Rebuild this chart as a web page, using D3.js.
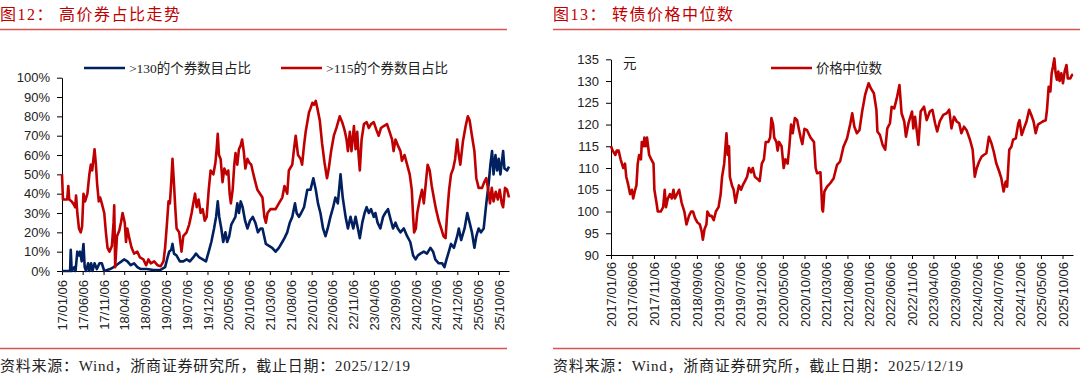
<!DOCTYPE html>
<html lang="zh-CN">
<head>
<meta charset="UTF-8">
<title>高价券占比走势 / 转债价格中位数</title>
<style>
    body { margin: 0; background: #fff; }
    svg { display: block; font-family: "Liberation Serif", "Times New Roman", "Noto Sans CJK SC", serif; }
    .title { font-size: 16px; fill: #c00000; letter-spacing: 1.5px; }
    .note { font-size: 15px; fill: #222; }
    .legend { font-size: 13.5px; fill: #222; }
    .axis text { font-size: 13px; fill: #222; }
    .axis path, .axis line { stroke: #000; }
</style>
</head>
<body>
<script src="https://d3js.org/d3.v7.min.js"></script>
<script>
// x轴刻度（每5个月）
const tickDates = ["2017-01-06", "2017-06-06", "2017-11-06", "2018-04-06", "2018-09-06", "2019-02-06",
    "2019-07-06", "2019-12-06", "2020-05-06", "2020-10-06", "2021-03-06", "2021-08-06", "2022-01-06",
    "2022-06-06", "2022-11-06", "2023-04-06", "2023-09-06", "2024-02-06", "2024-07-06", "2024-12-06",
    "2025-05-06", "2025-10-06"];
const dateRange = ["2017-01-06", "2025-12-19"];

// 图12: >130 的个券数目占比 (%)
const ratio130 = [
    ["2017-01-06", 0], ["2017-03-06", 0], ["2017-03-11", 11], ["2017-03-18", 0], ["2017-04-06", 2], ["2017-04-15", 0],
    ["2017-04-28", 10], ["2017-05-08", 8], ["2017-05-18", 10], ["2017-05-30", 5], ["2017-06-12", 14], ["2017-06-21", 2],
    ["2017-07-01", 0], ["2017-07-16", 4], ["2017-07-25", 0], ["2017-08-07", 4], ["2017-08-17", 0], ["2017-09-01", 4],
    ["2017-09-18", 1], ["2017-10-07", 4], ["2017-10-24", 4], ["2017-11-11", 0], ["2017-12-24", 1], ["2018-01-18", 2],
    ["2018-02-07", 3], ["2018-02-26", 4], ["2018-03-18", 5], ["2018-04-05", 6], ["2018-04-29", 5], ["2018-05-23", 3],
    ["2018-06-17", 4], ["2018-07-11", 2], ["2018-08-05", 1], ["2018-09-18", 1], ["2018-11-06", 0.5], ["2018-12-24", 0.5],
    ["2019-01-30", 2], ["2019-02-17", 7], ["2019-03-01", 10], ["2019-03-16", 11], ["2019-03-25", 14], ["2019-04-05", 9],
    ["2019-04-24", 8], ["2019-05-18", 5], ["2019-06-12", 5], ["2019-07-06", 6], ["2019-07-30", 5], ["2019-08-24", 7],
    ["2019-09-13", 9], ["2019-10-07", 7], ["2019-11-01", 6], ["2019-11-25", 5], ["2019-12-15", 10], ["2020-01-03", 15],
    ["2020-01-23", 22], ["2020-02-07", 28], ["2020-02-19", 36], ["2020-03-01", 28], ["2020-03-16", 22], ["2020-03-30", 15],
    ["2020-04-15", 20], ["2020-04-28", 15], ["2020-05-13", 18], ["2020-05-28", 24], ["2020-06-12", 26], ["2020-06-27", 28],
    ["2020-07-11", 35], ["2020-07-23", 30], ["2020-08-05", 36], ["2020-08-19", 33], ["2020-09-06", 26], ["2020-09-23", 22],
    ["2020-10-12", 26], ["2020-11-01", 28], ["2020-11-20", 25], ["2020-12-09", 20], ["2020-12-28", 22], ["2021-01-11", 22],
    ["2021-02-05", 14], ["2021-02-28", 13], ["2021-03-23", 12], ["2021-04-17", 10], ["2021-05-11", 12], ["2021-06-05", 15],
    ["2021-06-21", 17], ["2021-07-11", 20], ["2021-07-30", 25], ["2021-08-17", 28], ["2021-09-06", 35], ["2021-09-18", 30],
    ["2021-10-05", 28], ["2021-10-21", 30], ["2021-11-11", 33], ["2021-12-05", 42], ["2021-12-28", 42], ["2022-01-18", 48],
    ["2022-02-05", 42], ["2022-02-21", 35], ["2022-03-11", 30], ["2022-03-30", 22], ["2022-04-17", 18], ["2022-05-03", 22],
    ["2022-05-23", 28], ["2022-06-12", 33], ["2022-06-28", 38], ["2022-07-16", 35], ["2022-08-05", 50], ["2022-08-21", 38],
    ["2022-09-11", 28], ["2022-09-28", 22], ["2022-10-17", 28], ["2022-11-06", 22], ["2022-11-23", 28], ["2022-12-10", 22],
    ["2022-12-24", 17], ["2023-01-11", 25], ["2023-01-28", 30], ["2023-02-12", 33], ["2023-02-28", 30], ["2023-03-16", 32],
    ["2023-04-05", 28], ["2023-04-17", 30], ["2023-05-03", 25], ["2023-05-23", 22], ["2023-06-12", 28], ["2023-06-28", 30],
    ["2023-07-18", 32], ["2023-08-05", 27], ["2023-08-24", 22], ["2023-09-11", 25], ["2023-09-28", 22], ["2023-10-17", 20],
    ["2023-11-11", 22], ["2023-12-05", 18], ["2023-12-28", 15], ["2024-01-18", 8], ["2024-02-05", 6], ["2024-02-21", 8],
    ["2024-03-11", 9], ["2024-04-05", 10], ["2024-04-28", 9], ["2024-05-23", 12], ["2024-06-12", 10], ["2024-06-28", 6],
    ["2024-07-23", 4], ["2024-08-17", 4], ["2024-09-03", 2], ["2024-09-18", 6], ["2024-10-05", 10], ["2024-10-21", 14],
    ["2024-11-11", 12], ["2024-12-05", 18], ["2024-12-17", 22], ["2025-01-03", 16], ["2025-01-28", 22], ["2025-02-17", 30],
    ["2025-03-06", 25], ["2025-03-23", 20], ["2025-04-10", 12], ["2025-04-24", 18], ["2025-05-11", 22], ["2025-05-28", 20],
    ["2025-06-17", 22], ["2025-07-06", 35], ["2025-07-23", 45], ["2025-08-05", 55], ["2025-08-17", 62], ["2025-08-28", 50],
    ["2025-09-11", 60], ["2025-09-23", 52], ["2025-10-05", 58], ["2025-10-17", 50], ["2025-11-06", 62], ["2025-11-16", 53],
    ["2025-12-05", 52], ["2025-12-19", 54]
];

// 图12: >115 的个券数目占比 (%)
const ratio115 = [
    ["2017-01-06", 50], ["2017-01-13", 37], ["2017-02-13", 37], ["2017-02-21", 44], ["2017-02-28", 37], ["2017-03-18", 36],
    ["2017-04-06", 34], ["2017-04-12", 33], ["2017-04-19", 39], ["2017-04-28", 30], ["2017-05-10", 22], ["2017-05-23", 20],
    ["2017-06-02", 23], ["2017-06-12", 40], ["2017-06-24", 36], ["2017-07-11", 40], ["2017-07-25", 50], ["2017-08-05", 55],
    ["2017-08-15", 52], ["2017-08-24", 58], ["2017-09-01", 63], ["2017-09-11", 55], ["2017-09-20", 45], ["2017-10-02", 36],
    ["2017-10-12", 38], ["2017-10-24", 35], ["2017-11-11", 30], ["2017-11-23", 20], ["2017-12-05", 12], ["2017-12-19", 10],
    ["2018-01-06", 13], ["2018-01-18", 25], ["2018-01-23", 34], ["2018-01-30", 2], ["2018-02-12", 18], ["2018-03-01", 21],
    ["2018-03-13", 25], ["2018-03-25", 30], ["2018-04-10", 25], ["2018-04-19", 15], ["2018-04-29", 22], ["2018-05-13", 17],
    ["2018-05-30", 12], ["2018-06-17", 9], ["2018-07-11", 10], ["2018-07-30", 7], ["2018-08-24", 6], ["2018-09-13", 3],
    ["2018-09-30", 6], ["2018-10-17", 4], ["2018-11-11", 5], ["2018-12-05", 3], ["2018-12-29", 2.5], ["2019-01-18", 5],
    ["2019-01-30", 12], ["2019-02-12", 24], ["2019-02-24", 36], ["2019-03-06", 35], ["2019-03-16", 46], ["2019-03-25", 58],
    ["2019-04-05", 45], ["2019-04-15", 32], ["2019-04-24", 22], ["2019-05-13", 20], ["2019-05-30", 10], ["2019-06-12", 18],
    ["2019-07-06", 20], ["2019-07-25", 24], ["2019-08-12", 30], ["2019-08-24", 35], ["2019-09-06", 40], ["2019-09-18", 33],
    ["2019-10-02", 37], ["2019-10-17", 30], ["2019-11-01", 32], ["2019-11-16", 26], ["2019-11-30", 28], ["2019-12-15", 42],
    ["2019-12-29", 52], ["2020-01-18", 50], ["2020-02-02", 56], ["2020-02-12", 64], ["2020-02-19", 71], ["2020-02-28", 60],
    ["2020-03-11", 58], ["2020-03-25", 46], ["2020-04-07", 53], ["2020-04-24", 50], ["2020-05-06", 52], ["2020-05-16", 40],
    ["2020-05-25", 35], ["2020-06-07", 42], ["2020-06-19", 55], ["2020-06-28", 61], ["2020-07-11", 55], ["2020-07-23", 63],
    ["2020-08-05", 65], ["2020-08-15", 68], ["2020-08-27", 62], ["2020-09-08", 53], ["2020-09-23", 58], ["2020-10-07", 56],
    ["2020-10-21", 55], ["2020-11-06", 50], ["2020-11-20", 46], ["2020-12-05", 42], ["2020-12-24", 40], ["2021-01-11", 38],
    ["2021-01-25", 28], ["2021-02-05", 25], ["2021-02-17", 30], ["2021-03-11", 32], ["2021-04-17", 32], ["2021-05-11", 35],
    ["2021-06-05", 38], ["2021-06-21", 44], ["2021-07-11", 40], ["2021-07-23", 52], ["2021-08-17", 55], ["2021-08-28", 62],
    ["2021-09-11", 70], ["2021-09-28", 60], ["2021-10-17", 58], ["2021-10-28", 55], ["2021-11-11", 65], ["2021-11-23", 72],
    ["2021-12-05", 77], ["2021-12-17", 82], ["2021-12-28", 84], ["2022-01-11", 87], ["2022-01-23", 86], ["2022-02-05", 88],
    ["2022-02-17", 84], ["2022-03-06", 78], ["2022-03-23", 66], ["2022-04-10", 56], ["2022-04-28", 48], ["2022-05-11", 53],
    ["2022-05-28", 62], ["2022-06-17", 70], ["2022-07-06", 74], ["2022-07-30", 80], ["2022-08-17", 77], ["2022-09-03", 73],
    ["2022-09-18", 68], ["2022-09-28", 62], ["2022-10-12", 72], ["2022-10-24", 62], ["2022-11-11", 75], ["2022-11-23", 63],
    ["2022-12-05", 72], ["2022-12-15", 60], ["2022-12-24", 52], ["2023-01-06", 68], ["2023-01-23", 76], ["2023-02-12", 77],
    ["2023-02-28", 74], ["2023-03-16", 76], ["2023-04-05", 77], ["2023-04-24", 73], ["2023-05-11", 70], ["2023-05-28", 74],
    ["2023-06-17", 75], ["2023-07-11", 76], ["2023-07-30", 72], ["2023-08-17", 68], ["2023-08-28", 62], ["2023-09-11", 68],
    ["2023-09-28", 65], ["2023-10-17", 62], ["2023-10-28", 57], ["2023-11-16", 60], ["2023-12-05", 55], ["2023-12-24", 50],
    ["2024-01-08", 42], ["2024-01-18", 28], ["2024-01-25", 20], ["2024-02-07", 22], ["2024-02-17", 30], ["2024-03-06", 37],
    ["2024-03-23", 42], ["2024-04-05", 35], ["2024-04-19", 45], ["2024-05-03", 55], ["2024-05-18", 52], ["2024-06-02", 44],
    ["2024-06-17", 38], ["2024-07-03", 32], ["2024-07-23", 26], ["2024-08-10", 22], ["2024-08-27", 18], ["2024-09-11", 17],
    ["2024-09-23", 30], ["2024-10-07", 42], ["2024-10-21", 50], ["2024-11-06", 53], ["2024-11-20", 58], ["2024-12-05", 68],
    ["2024-12-17", 60], ["2024-12-28", 55], ["2025-01-16", 67], ["2025-02-05", 75], ["2025-02-21", 80], ["2025-03-06", 78],
    ["2025-03-23", 70], ["2025-04-10", 62], ["2025-04-24", 48], ["2025-05-11", 43], ["2025-06-05", 43], ["2025-06-21", 46],
    ["2025-07-06", 48], ["2025-07-20", 42], ["2025-08-02", 35], ["2025-08-15", 43], ["2025-08-28", 36], ["2025-09-13", 41],
    ["2025-09-28", 37], ["2025-10-12", 42], ["2025-10-27", 35], ["2025-11-06", 33], ["2025-11-20", 43], ["2025-12-05", 42],
    ["2025-12-19", 38]
];

// 图13: 转债价格中位数 (元)
const medianPrice = [
    ["2017-01-06", 115], ["2017-01-18", 114], ["2017-02-06", 113], ["2017-02-15", 114], ["2017-03-01", 114], ["2017-03-15", 112],
    ["2017-04-03", 110], ["2017-04-15", 111], ["2017-04-24", 108], ["2017-05-09", 106], ["2017-05-21", 104], ["2017-06-03", 105],
    ["2017-06-12", 103], ["2017-06-26", 105], ["2017-07-05", 106], ["2017-07-14", 111], ["2017-07-24", 113], ["2017-08-06", 112],
    ["2017-08-12", 116], ["2017-08-24", 115], ["2017-08-30", 117], ["2017-09-09", 115], ["2017-09-18", 117], ["2017-10-03", 113],
    ["2017-10-18", 112], ["2017-11-03", 111], ["2017-11-09", 105], ["2017-11-24", 102], ["2017-12-03", 100], ["2017-12-24", 100],
    ["2018-01-10", 101], ["2018-01-21", 105], ["2018-01-30", 101], ["2018-02-12", 103], ["2018-02-27", 104], ["2018-03-12", 103],
    ["2018-03-24", 105], ["2018-04-03", 103], ["2018-04-18", 104], ["2018-05-03", 105], ["2018-05-21", 102], ["2018-06-09", 100],
    ["2018-06-24", 97], ["2018-07-12", 99], ["2018-07-27", 100], ["2018-08-09", 100], ["2018-08-24", 98.5], ["2018-09-09", 97.5],
    ["2018-09-27", 97], ["2018-10-09", 95.5], ["2018-10-18", 93.5], ["2018-10-30", 96], ["2018-11-12", 97], ["2018-11-19", 100],
    ["2018-12-06", 99], ["2018-12-19", 99], ["2019-01-03", 98], ["2019-01-18", 100], ["2019-02-06", 101], ["2019-02-21", 104],
    ["2019-03-03", 108], ["2019-03-18", 111], ["2019-03-27", 115], ["2019-04-03", 118], ["2019-04-12", 113], ["2019-04-21", 115],
    ["2019-04-27", 108], ["2019-05-12", 106], ["2019-05-24", 105], ["2019-06-06", 102], ["2019-06-18", 104], ["2019-06-30", 106],
    ["2019-07-15", 105], ["2019-07-27", 106], ["2019-08-12", 107], ["2019-08-27", 108], ["2019-09-09", 110], ["2019-09-24", 109],
    ["2019-10-06", 110], ["2019-10-21", 108], ["2019-11-09", 107.5], ["2019-11-24", 107], ["2019-12-09", 111], ["2019-12-24", 112],
    ["2020-01-06", 116], ["2020-01-24", 116], ["2020-02-06", 117], ["2020-02-15", 121.5], ["2020-02-27", 120], ["2020-03-06", 117],
    ["2020-03-21", 116], ["2020-03-30", 114], ["2020-04-09", 116], ["2020-04-27", 115], ["2020-05-12", 110], ["2020-05-24", 112],
    ["2020-06-09", 111], ["2020-06-21", 115], ["2020-07-03", 120], ["2020-07-15", 118], ["2020-07-30", 121.5], ["2020-08-15", 121],
    ["2020-08-27", 119], ["2020-09-09", 117], ["2020-09-21", 115.5], ["2020-10-06", 119], ["2020-10-24", 118.7], ["2020-11-18", 117],
    ["2020-12-12", 116], ["2020-12-24", 110], ["2021-01-03", 108.8], ["2021-01-27", 109], ["2021-02-09", 100.4], ["2021-02-14", 100],
    ["2021-02-24", 104.6], ["2021-03-15", 105.7], ["2021-04-06", 106.5], ["2021-04-30", 107.6], ["2021-05-24", 110.7], ["2021-06-15", 111.5],
    ["2021-07-09", 114.9], ["2021-08-03", 116.8], ["2021-08-27", 120.3], ["2021-09-09", 122.6], ["2021-09-24", 119.5], ["2021-10-12", 118],
    ["2021-10-30", 118.7], ["2021-11-18", 123], ["2021-12-09", 126.8], ["2022-01-03", 129.5], ["2022-01-19", 128.3], ["2022-02-09", 127.2],
    ["2022-02-27", 123.4], ["2022-03-06", 118.4], ["2022-03-24", 117.6], ["2022-04-12", 115.3], ["2022-04-30", 114.2], ["2022-05-15", 119.1],
    ["2022-06-03", 120.3], ["2022-06-15", 124.1], ["2022-07-03", 123.7], ["2022-07-21", 126], ["2022-08-09", 129.1], ["2022-08-24", 122.6],
    ["2022-09-12", 120.7], ["2022-09-24", 117.2], ["2022-10-12", 120.3], ["2022-11-06", 123], ["2022-11-15", 119.1], ["2022-11-27", 121.8],
    ["2022-12-09", 118.7], ["2022-12-21", 115.3], ["2023-01-06", 123], ["2023-01-30", 124.1], ["2023-02-18", 121], ["2023-03-12", 123],
    ["2023-03-30", 123.4], ["2023-04-18", 120.3], ["2023-05-03", 118.4], ["2023-05-21", 120.7], ["2023-06-15", 122.2], ["2023-07-09", 122.6],
    ["2023-07-27", 123.4], ["2023-08-12", 119.1], ["2023-08-30", 121.8], ["2023-09-18", 120.7], ["2023-10-06", 120.3], ["2023-10-21", 118],
    ["2023-11-09", 119.5], ["2023-11-27", 118.7], ["2023-12-21", 116.5], ["2024-01-09", 114.2], ["2024-01-24", 108], ["2024-02-06", 109.9],
    ["2024-02-24", 111.5], ["2024-03-12", 112.6], ["2024-03-27", 113], ["2024-04-15", 113.4], ["2024-05-03", 117.2], ["2024-05-21", 115.7],
    ["2024-06-06", 113.8], ["2024-06-24", 111.1], ["2024-07-15", 109.2], ["2024-07-30", 107.6], ["2024-08-15", 104.6], ["2024-08-30", 106.9],
    ["2024-09-09", 105.7], ["2024-09-24", 114.2], ["2024-10-09", 114.9], ["2024-10-21", 116.5], ["2024-11-09", 116.8], ["2024-11-27", 120.3],
    ["2024-12-06", 121], ["2024-12-21", 117.6], ["2025-01-06", 119.1], ["2025-01-24", 120.7], ["2025-02-12", 123.4], ["2025-02-27", 122.2],
    ["2025-03-15", 120.7], ["2025-03-30", 118], ["2025-04-15", 120], ["2025-04-30", 120.3], ["2025-05-18", 120.7], ["2025-06-09", 121],
    ["2025-06-18", 123.4], ["2025-06-30", 128.7], ["2025-07-12", 127.6], ["2025-07-21", 131.8], ["2025-07-30", 133.3], ["2025-08-09", 135.2],
    ["2025-08-18", 131.8], ["2025-08-27", 130.3], ["2025-09-06", 132.2], ["2025-09-15", 130], ["2025-09-27", 131.8], ["2025-10-09", 129.5],
    ["2025-10-21", 132.2], ["2025-11-03", 133.7], ["2025-11-12", 130.6], ["2025-11-30", 130.6], ["2025-12-12", 131.4], ["2025-12-19", 131.5]
];

const leftTicksY = [0, 10, 20, 30, 40, 50, 60, 70, 80, 90, 100];
const rightTicksY = [90, 95, 100, 105, 110, 115, 120, 125, 130, 135];

const RED = "#c00000";
const NAVY = "#002060";
const RULE = "#d9534f";

const parse = d3.timeParse("%Y-%m-%d");
const svg = d3.select("body").append("svg").attr("width", 1080).attr("height", 375);

// 标题、分隔线、来源
function frame(x0, x1, num, name) {
    svg.append("text").attr("class", "title").attr("x", x0).attr("y", 20).text(num);
    svg.append("text").attr("class", "title").attr("x", x0 + 59).attr("y", 20).text(name);
    svg.append("line").attr("x1", x0).attr("x2", x1).attr("y1", 29.5).attr("y2", 29.5)
        .attr("stroke", RULE).attr("stroke-width", 1.5);
    svg.append("line").attr("x1", x0).attr("x2", x1).attr("y1", 348.5).attr("y2", 348.5)
        .attr("stroke", RULE).attr("stroke-width", 1.5);
    svg.append("text").attr("class", "note").attr("x", x0).attr("y", 371)
        .attr("textLength", 410).attr("lengthAdjust", "spacing")
        .text("资料来源：Wind，浙商证券研究所，截止日期：2025/12/19");
}
frame(0, 507, "图12：", "高价券占比走势");
frame(553, 1080, "图13：", "转债价格中位数");

function toPoints(arr) {
    return arr.map(d => ({ date: parse(d[0]), value: d[1] }));
}

function panel(opt) {
    const x = d3.scaleTime().domain(dateRange.map(parse)).range([opt.left, opt.right]);
    const y = d3.scaleLinear().domain(opt.yDomain).range([opt.bottom, opt.top]);

    const xAxis = d3.axisBottom(x)
        .tickValues(tickDates.map(parse))
        .tickFormat(d3.timeFormat(opt.dateFmt))
        .tickSizeInner(4).tickSizeOuter(0).tickPadding(3);
    const gx = svg.append("g").attr("class", "axis")
        .attr("transform", `translate(0, ${opt.bottom})`).call(xAxis);
    gx.selectAll("text")
        .attr("transform", "rotate(-90)")
        .attr("text-anchor", "end")
        .attr("x", -opt.labelGap)
        .attr("y", 0)
        .attr("dy", "0.35em");

    const yAxis = d3.axisLeft(y)
        .tickValues(opt.yTicks)
        .tickFormat(opt.yFmt)
        .tickSizeInner(5).tickSizeOuter(0).tickPadding(opt.yPad);
    svg.append("g").attr("class", "axis")
        .attr("transform", `translate(${opt.left}, 0)`).call(yAxis);

    const line = d3.line().x(d => x(d.date)).y(d => y(d.value));
    opt.series.forEach(s => {
        svg.append("path").datum(toPoints(s.data))
            .attr("fill", "none")
            .attr("stroke", s.color)
            .attr("stroke-width", 2.6)
            .attr("stroke-linejoin", "round")
            .attr("d", line);
    });

    // 图例
    opt.series.forEach(s => {
        svg.append("line").attr("x1", s.lx).attr("x2", s.lx + 41).attr("y1", 68).attr("y2", 68)
            .attr("stroke", s.color).attr("stroke-width", 2.5);
        svg.append("text").attr("class", "legend").attr("x", s.lx + 45).attr("y", 73)
            .attr("textLength", s.tw).attr("lengthAdjust", "spacing")
            .text(s.name);
    });
}

panel({
    left: 62, right: 509, top: 77.7, bottom: 271,
    yDomain: [0, 100], yTicks: leftTicksY, yFmt: d => d + "%", yPad: 7,
    dateFmt: "%y/%m/%d", labelGap: 9,
    series: [
        { name: ">130的个券数目占比", data: ratio130, color: NAVY, lx: 84, tw: 122 },
        { name: ">115的个券数目占比", data: ratio115, color: RED, lx: 281, tw: 122 }
    ]
});

panel({
    left: 611, right: 1073, top: 59.3, bottom: 255,
    yDomain: [90, 135], yTicks: rightTicksY, yFmt: d => d, yPad: 7,
    dateFmt: "%Y/%m/%d", labelGap: 7,
    series: [
        { name: "价格中位数", data: medianPrice, color: RED, lx: 771, tw: 66 }
    ]
});

svg.append("text").attr("class", "legend").attr("x", 623).attr("y", 68).text("元");
</script>
</body>
</html>
